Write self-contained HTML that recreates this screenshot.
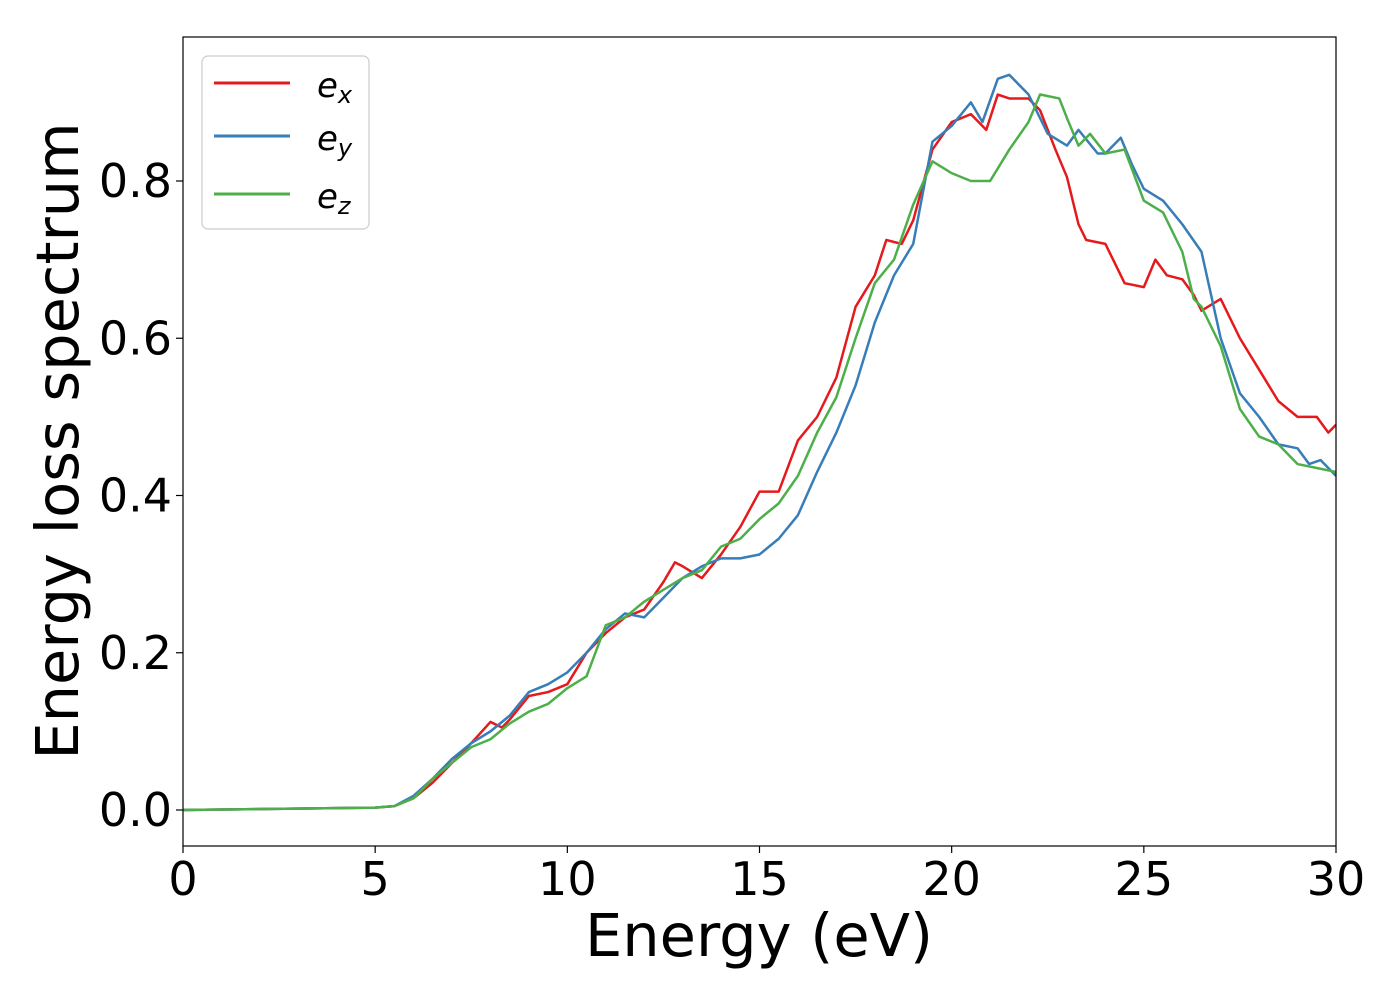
<!DOCTYPE html>
<html><head><meta charset="utf-8"><style>
body{margin:0;background:#fff;}
svg text{font-family:"DejaVu Sans","Liberation Sans",sans-serif;}
</style></head><body>
<svg width="1400" height="1000" xmlns="http://www.w3.org/2000/svg">
<g id="ticks"></g>
<g id="series"></g>
<rect x="183" y="37" width="1153" height="809" fill="none" stroke="#000" stroke-width="1.2"/>
<text x="759" y="956" font-size="59" text-anchor="middle">Energy (eV)</text>
<text transform="translate(78,441) rotate(-90)" font-size="59" text-anchor="middle">Energy loss spectrum</text>
<g>
<rect x="202" y="56" width="167" height="173" rx="6" fill="#fff" fill-opacity="0.8" stroke="#ccc" stroke-width="1.2"/>
<line x1="214" y1="83" x2="290" y2="83" stroke="#e41a1c" stroke-width="3"/>
<line x1="214" y1="136" x2="290" y2="136" stroke="#377eb8" stroke-width="3"/>
<line x1="214" y1="194" x2="290" y2="194" stroke="#4daf4a" stroke-width="3"/>
<text x="317" y="97" font-size="34" font-style="italic">e<tspan font-size="24" dy="6">x</tspan></text>
<text x="317" y="150" font-size="34" font-style="italic">e<tspan font-size="24" dy="6">y</tspan></text>
<text x="317" y="208" font-size="34" font-style="italic">e<tspan font-size="24" dy="6">z</tspan></text>
</g>
</svg>
<script>
const xTicks=[0,5,10,15,20,25,30];
const yTicks=[0.0,0.2,0.4,0.6,0.8];
const exX=[0,5,5.5,6,6.5,7,7.5,8,8.3,8.5,9,9.5,10,10.5,11,11.5,12,12.5,12.8,13,13.5,14,14.5,15,15.5,16,16.5,17,17.5,18,18.3,18.7,19,19.5,20,20.5,20.9,21.2,21.5,22,22.3,22.7,23,23.3,23.5,24,24.5,25,25.3,25.6,26,26.3,26.5,27,27.5,28,28.5,29,29.5,29.8,30];
const exY=[0,0.003,0.005,0.015,0.035,0.06,0.085,0.112,0.105,0.115,0.145,0.15,0.16,0.2,0.225,0.245,0.255,0.29,0.315,0.31,0.295,0.325,0.36,0.405,0.405,0.47,0.5,0.55,0.64,0.68,0.725,0.72,0.75,0.84,0.875,0.885,0.865,0.91,0.905,0.905,0.89,0.84,0.805,0.745,0.725,0.72,0.67,0.665,0.7,0.68,0.675,0.655,0.635,0.65,0.6,0.56,0.52,0.5,0.5,0.48,0.49];
const eyX=[0,5,5.5,6,6.5,7,7.5,8,8.5,9,9.5,10,10.5,11,11.5,12,12.5,13,13.5,14,14.5,15,15.5,16,16.5,17,17.5,18,18.5,19,19.5,20,20.5,20.8,21.2,21.5,22,22.5,23,23.3,23.8,24,24.4,24.7,25,25.5,26,26.5,27,27.5,28,28.5,29,29.3,29.6,30];
const eyY=[0,0.003,0.005,0.018,0.04,0.065,0.085,0.1,0.12,0.15,0.16,0.175,0.2,0.23,0.25,0.245,0.27,0.295,0.31,0.32,0.32,0.325,0.345,0.375,0.43,0.48,0.54,0.62,0.68,0.72,0.85,0.87,0.9,0.875,0.93,0.935,0.91,0.86,0.845,0.865,0.835,0.835,0.855,0.82,0.79,0.775,0.745,0.71,0.6,0.53,0.5,0.465,0.46,0.44,0.445,0.425];
const ezX=[0,5,5.5,6,6.5,7,7.5,8,8.5,9,9.5,10,10.5,11,11.5,12,12.5,13,13.5,14,14.5,15,15.5,16,16.5,17,17.5,18,18.5,19,19.5,20,20.5,21,21.5,22,22.3,22.8,23,23.3,23.6,24,24.5,25,25.5,26,26.3,26.5,27,27.5,28,28.5,29,29.5,30];
const ezY=[0,0.003,0.005,0.015,0.04,0.06,0.08,0.09,0.11,0.125,0.135,0.155,0.17,0.235,0.245,0.265,0.28,0.295,0.305,0.335,0.345,0.37,0.39,0.425,0.48,0.525,0.6,0.67,0.7,0.77,0.825,0.81,0.8,0.8,0.84,0.875,0.91,0.905,0.88,0.845,0.86,0.835,0.84,0.775,0.76,0.71,0.65,0.64,0.59,0.51,0.475,0.465,0.44,0.435,0.43];
const NS="http://www.w3.org/2000/svg";
function xs(v){return 183+v*(1153/30);}
function ys(v){return 810-v*786.25;}
const tg=document.getElementById('ticks');
xTicks.forEach(t=>{
  const l=document.createElementNS(NS,'line');
  l.setAttribute('x1',xs(t));l.setAttribute('x2',xs(t));l.setAttribute('y1',846);l.setAttribute('y2',853);
  l.setAttribute('stroke','#000');l.setAttribute('stroke-width','1.2');
  
  
  tg.appendChild(l);
  const tx=document.createElementNS(NS,'text');
  tx.setAttribute('x',xs(t));tx.setAttribute('y',895);tx.setAttribute('font-size','46');tx.setAttribute('text-anchor','middle');
  tx.textContent=t;
  
  
  tg.appendChild(tx);
});
yTicks.forEach(t=>{
  const l=document.createElementNS(NS,'line');
  l.setAttribute('x1',176);l.setAttribute('x2',183);l.setAttribute('y1',ys(t));l.setAttribute('y2',ys(t));
  l.setAttribute('stroke','#000');l.setAttribute('stroke-width','1.2');
  
  
  tg.appendChild(l);
  const tx=document.createElementNS(NS,'text');
  tx.setAttribute('x',172);tx.setAttribute('y',ys(t)+16);tx.setAttribute('font-size','46');tx.setAttribute('text-anchor','end');
  tx.textContent=t.toFixed(1);
  
  
  tg.appendChild(tx);
});
const sg=document.getElementById('series');
function draw(X,Y,c,n){
  const p=document.createElementNS(NS,'polyline');
  p.setAttribute('points',X.map((x,i)=>xs(x)+','+ys(Y[i])).join(' '));
  p.setAttribute('fill','none');p.setAttribute('stroke',c);p.setAttribute('stroke-width','2.5');p.setAttribute('stroke-linejoin','round');
  
  
  sg.appendChild(p);
}
draw(exX,exY,'#e41a1c','series-ex');
draw(eyX,eyY,'#377eb8','series-ey');
draw(ezX,ezY,'#4daf4a','series-ez');
</script>
</body></html>
